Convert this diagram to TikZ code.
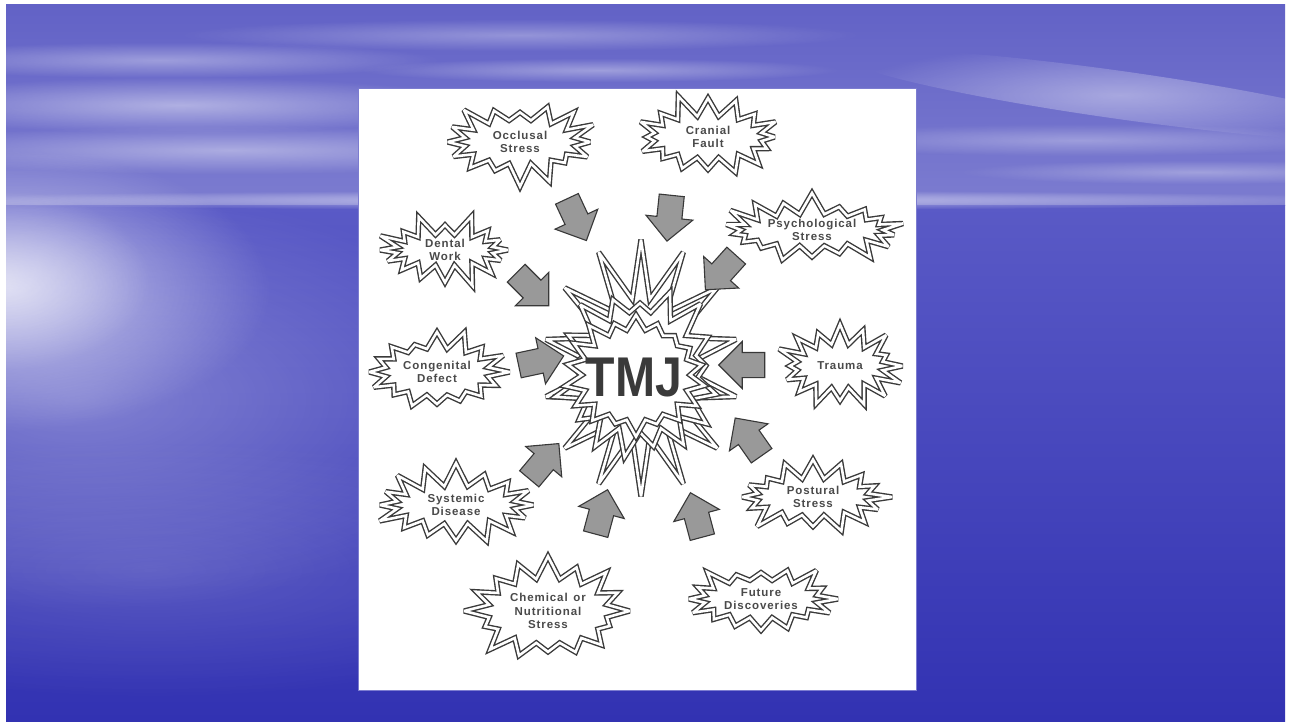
\documentclass[tikz,border=0pt]{standalone}
\usepackage{fontspec}
\setmainfont{Liberation Sans}
\newfontfamily\lblfont[LetterSpace=8]{Liberation Sans}
\newfontfamily\condfont[FakeStretch=0.86]{Liberation Sans}
\usetikzlibrary{shapes.symbols,shapes.arrows,fadings}
\tikzfading[name=softglow, inner color=transparent!0, outer color=transparent!100]
\definecolor{burstline}{HTML}{3A3A3A}
\definecolor{labelgray}{HTML}{4A4A4A}
\definecolor{arrowfill}{HTML}{999999}
\definecolor{arrowline}{HTML}{383838}
\definecolor{skytop}{HTML}{6262C6}
\definecolor{skylow}{HTML}{7C7CD0}
\definecolor{seatop}{HTML}{5A5AC6}
\definecolor{seabot}{HTML}{3232B2}
\tikzset{
  burst/.style={starburst, draw=burstline, line width=1.4pt, double=white,
    double distance=2.6pt, fill=white, miter limit=3, starburst points=16,
    starburst point height=24pt, text=labelgray, align=center, inner sep=0pt,
    font=\lblfont\bfseries\fontsize{11.5}{13.5}\selectfont},
  bigarrow/.style={single arrow, draw=arrowline, fill=arrowfill, line width=1.1pt,
    minimum height=46pt, inner xsep=0pt, inner ysep=12pt,
    single arrow head extend=11pt},
  cloud/.style={white, path fading=softglow}
}
\begin{document}
\begin{tikzpicture}[x=1pt,y=-1pt]
\useasboundingbox (0,0) rectangle (1292,721);
\fill[white] (0,0) rectangle (1292,721);
% background
\shade[top color=skytop, bottom color=skylow] (6,4) rectangle (1285,205);
\shade[top color=seatop, bottom color=seabot] (6,205) rectangle (1285,721);
\fill[cloud, opacity=.45] (180,105) ellipse (300pt and 28pt);
\fill[cloud, opacity=.40] (230,150) ellipse (360pt and 24pt);
\fill[cloud, opacity=.35] (160,60) ellipse (280pt and 18pt);
\fill[cloud, opacity=.30] (520,35) ellipse (340pt and 16pt);
\fill[cloud, opacity=.35] (600,70) ellipse (240pt and 12pt);
\fill[cloud, opacity=.40, rotate around={-8:(1120,95)}] (1120,95) ellipse (280pt and 24pt);
\fill[cloud, opacity=.30] (1080,140) ellipse (300pt and 16pt);
\fill[cloud, opacity=.30] (1200,172) ellipse (240pt and 12pt);
\fill[cloud, opacity=.55] (650,200) ellipse (760pt and 10pt);
\fill[cloud, opacity=.60] (10,290) ellipse (260pt and 140pt);
\fill[cloud, opacity=.50] (0,280) ellipse (150pt and 90pt);
\fill[cloud, opacity=.30] (80,400) ellipse (460pt and 210pt);
\fill[cloud, opacity=.15] (150,570) ellipse (460pt and 130pt);
% panel
\fill[white, draw=skylow, line width=.8pt] (358,88) rectangle (916,690);
% TMJ
\node[burst, minimum width=195pt, minimum height=257pt, starburst points=14,
  starburst point height=58pt, random starburst=0] (tmjo) at (641,368) {};
\node[burst, minimum width=180pt, minimum height=185pt, starburst points=17,
  starburst point height=32pt, random starburst=23] (tmjm) at (640,372) {};
\node[burst, minimum width=152pt, minimum height=135pt, starburst points=18,
  starburst point height=22pt, random starburst=41] (tmji) at (636,375) {};
\node[text=burstline, font=\condfont\bfseries\fontsize{56}{56}\selectfont] (tmj) at (634,377) {TMJ};
% causes
\node[burst, minimum width=160pt, minimum height=92pt, random starburst=3] (occ) at (520,142) {Occlusal\\Stress};
\node[burst, minimum width=157pt, minimum height=90pt, random starburst=11] (cra) at (708,137) {Cranial\\Fault};
\node[burst, minimum width=190pt, minimum height=80pt, starburst points=18, random starburst=17] (psy) at (812,230) {Psychological\\Stress};
\node[burst, minimum width=145pt, minimum height=76pt, random starburst=29] (den) at (445,250) {Dental\\Work};
\node[burst, minimum width=152pt, minimum height=95pt, random starburst=31] (con) at (437,372) {Congenital\\Defect};
\node[burst, minimum width=135pt, minimum height=92pt, random starburst=37] (tra) at (840,366) {Trauma};
\node[burst, minimum width=168pt, minimum height=86pt, random starburst=43] (sys) at (456,505) {Systemic\\Disease};
\node[burst, minimum width=160pt, minimum height=85pt, random starburst=47] (pos) at (813,497) {Postural\\Stress};
\node[burst, minimum width=168pt, minimum height=113pt, random starburst=53] (che) at (548,611) {Chemical\enspace or\\Nutritional\\Stress};
\node[burst, minimum width=162pt, minimum height=86pt, random starburst=59] (fut) at (761,599) {Future\\Discoveries};
% arrows
\node[bigarrow, rotate=-65]  (a1)  at (574,214) {};
\node[bigarrow, rotate=-96]  (a2)  at (670,212) {};
\node[bigarrow, rotate=-132] (a3)  at (725,268) {};
\node[bigarrow, rotate=-45]  (a4)  at (528,285) {};
\node[bigarrow, rotate=12]   (a5)  at (535,362) {};
\node[bigarrow, rotate=180]  (a6)  at (748,365) {};
\node[bigarrow, rotate=50]   (a7)  at (540,466) {};
\node[bigarrow, rotate=125]  (a8)  at (752,442) {};
\node[bigarrow, rotate=75]   (a9)  at (600,518) {};
\node[bigarrow, rotate=105]  (a10) at (698,521) {};
\end{tikzpicture}
\end{document}
